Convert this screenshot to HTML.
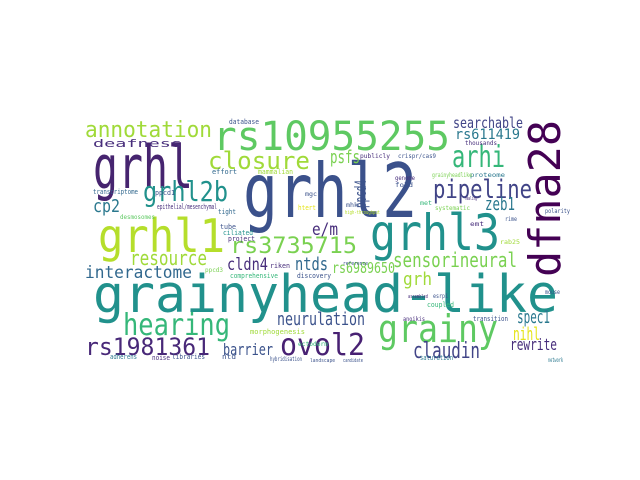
<!DOCTYPE html>
<html><head><meta charset="utf-8"><style>
html,body{margin:0;padding:0;background:#fff;width:640px;height:480px;overflow:hidden}
svg{display:block}
text{font-family:"DejaVu Sans Mono","Liberation Mono",monospace}
</style></head><body>
<svg id="cloud" width="640" height="480" viewBox="0 0 640 480" xmlns="http://www.w3.org/2000/svg">
<rect width="640" height="480" fill="#fff"/>
<g id="words"></g>
</svg>
<script>
// words and their colours (viridis)
const words = ["grainyhead-like","grhl2","rs10955255","dfna28","grhl1","grhl","grhl3","annotation","closure","grhl2b","arhi","pipeline","rs3735715","hearing","grainy","ovol2","rs1981361","claudin","sensorineural","resource","interactome","deafness","searchable","rs611419","psfs","zeb1","cp2","e/m","cldn4","ntds","rs6989650","grh","neurulation","barrier","spec1","nihl","rewrite","ppcd4","database","effort","mammalian","transcriptome","ppcd1","epithelial/mesenchymal","tight","tube","ciliated","project","desmosomes","mgc","htert","thousands","publicly","crispr/cas9","genome","fold","systematic","proteome","grainyheadlike","met","riken","comprehensive","discovery","ppcd3","morphogenesis","ectoderm","adherens","noise","libraries","ntd","hybridisation","landscape","coupled","anoikis","transition","saturation","assembled","esrp1","rab25","reference","candidate","network","mhk","healing","emt","rime","polarity","high-throughput","mouse"];
const colors = ["#21918c","#3b518b","#5ec962","#440154","#b5de2b","#46246f","#21918c","#a0da39","#a0da39","#21918c","#35b779","#414487","#7ad151","#35b779","#5ec962","#482173","#482878","#414487","#7ad151","#a0da39","#31688e","#472d7b","#414487","#2a788e","#7ad151","#2a788e","#2a788e","#472d7b","#472d7b","#31688e","#7ad151","#a0da39","#3b528b","#3b528b","#2a788e","#e5e419","#472d7b","#3b528b","#3b528b","#31688e","#a0da39","#31688e","#3b528b","#472d7b","#31688e","#3b528b","#21918c","#472d7b","#5ec962","#3b528b","#e5e419","#472d7b","#472d7b","#3b528b","#472d7b","#3b528b","#7ad151","#2a788e","#7ad151","#35b779","#472d7b","#35b779","#3b528b","#7ad151","#a0da39","#35b779","#2a788e","#472d7b","#3b528b","#3b528b","#3b528b","#3b528b","#35b779","#472d7b","#3b528b","#2a788e","#472d7b","#3b528b","#a0da39","#3b528b","#3b528b","#2a788e","#3b528b","#472d7b","#472d7b","#3b528b","#3b528b","#b5de2b","#3b528b"];
// layout: [x, baseline, fontSize, length, rotate]
const layout = [
[93,312,52,465,0],[243,217,75,174,0],[213,150,40,237,0],[560,277,44,157,-90],[98,252,46,127,0],
[93,188,60,100,0],[370,250,50,130,0],[85,137,22,127,0],[208,169,24,102,0],[143,201,28,85,0],
[452,167,30,53,0],[433,198,26,99,0],[230,253,22,127,0],[123,335,30,107,0],[378,342,38,120,0],
[280,355,30,85,0],[85,355,24,125,0],[413,358,22,67,0],[393,267,20,124,0],[130,265,20,77,0],
[85,278,17,107,0],[93,147,11,89,0],[453,128,15,70,0],[455,139,14,65,0],[330,163,18,30,0],
[485,210,18,30,0],[93,212,18,27,0],[312,235,17,26,0],[227,270,17,41,0],[295,270,18,33,0],
[332,273,15,63,0],[403,285,18,29,0],[277,325,18,88,0],[223,355,16,50,0],[517,323,18,33,0],
[513,340,18,27,0],[510,350,16,47,0],[366,208,16,28,-90],[229,124,7,30,0],[212,174,7,25,0],
[258,174,7,35,0],[93,194,7,45,0],[155,195,7,20,0],[157,209,7,60,0],[218,214,7,18,0],
[220,229,7,16,0],[223,235,7,30,0],[228,241,7,27,0],[120,219,6,35,0],[305,196,6,12,0],
[298,210,7,18,0],[465,145,6,32,0],[360,158,6,30,0],[398,158,6,38,0],[395,180,6,20,0],
[395,187,6,18,0],[435,210,6,35,0],[470,177,6,35,0],[432,177,6,40,0],[420,205,6,12,0],
[270,268,7,20,0],[230,278,7,48,0],[297,278,7,34,0],[205,272,6,18,0],[250,334,7,55,0],
[298,346,6,30,0],[110,359,7,27,0],[152,360,7,18,0],[172,359,7,33,0],[222,359,7,14,0],
[270,361,6,32,0],[310,362,5,25,0],[427,307,7,27,0],[403,321,6,22,0],[473,321,7,35,0],
[420,360,7,33,0],[408,298,5,20,0],[433,298,6,15,0],[500,244,6,20,0],[343,265,5,25,0],
[343,362,5,20,0],[548,362,6,15,0],[346,207,6,12,0],[465,200,5,12,0],[470,226,6,14,0],
[505,221,6,12,0],[545,213,6,25,0],[345,214,5,35,0],[545,294,6,15,0]
];
const g = document.getElementById('words');
const NS = 'http://www.w3.org/2000/svg';
for (let i = 0; i < words.length; i++) {
  const L = layout[i];
  const t = document.createElementNS(NS, 'text');
  
  
  t.setAttribute('x', L[0]);
  t.setAttribute('y', L[1]);
  t.setAttribute('font-size', L[2]);
  t.setAttribute('fill', colors[i]);
  t.setAttribute('textLength', L[3]);
  t.setAttribute('lengthAdjust', 'spacingAndGlyphs');
  if (L[4]) t.setAttribute('transform', 'rotate(' + L[4] + ' ' + L[0] + ' ' + L[1] + ')');
  t.textContent = words[i];
  g.appendChild(t);
}
</script>
</body></html>
